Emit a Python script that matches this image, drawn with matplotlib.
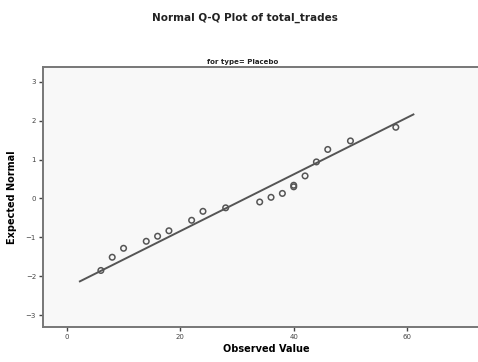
import matplotlib
matplotlib.use("Agg")
import matplotlib.pyplot as plt

# observed total_trades values and their expected normal scores
observed = [6, 8, 10, 14, 16, 18, 22, 24, 28, 34, 36, 38, 40, 40, 42, 44, 46, 50, 58]
expected = [-1.85, -1.51, -1.28, -1.10, -0.97, -0.83, -0.56, -0.33, -0.24, -0.09,
            0.03, 0.13, 0.30, 0.34, 0.58, 0.94, 1.26, 1.48, 1.83]

# reference line endpoints (mean 31.5, sd 13.7)
line_x = [2.3, 61.1]
line_y = [-2.13, 2.16]

x_ticks = [0, 20, 40, 60]
y_ticks = [-3, -2, -1, 0, 1, 2, 3]

fig = plt.figure(figsize=(4.78, 3.62), dpi=100)
fig.patch.set_facecolor("white")
# plot frame runs past the right edge of the canvas
ax = fig.add_axes([0.090, 0.097, 1.1, 0.718])
ax.set_facecolor("#f8f8f8")

ax.plot(line_x, line_y, color="#555555", lw=1.4, zorder=2)
ax.scatter(observed, expected, s=16, facecolors="none", edgecolors="#555555",
           linewidths=1.1, zorder=3)

ax.set_xlim(-4.2, 88.5)
ax.set_ylim(-3.3, 3.38)
ax.set_xticks(x_ticks)
ax.set_yticks(y_ticks)
ax.tick_params(labelsize=5, colors="#444444", length=3, width=1, pad=2)

for side in ["top", "bottom", "left"]:
    ax.spines[side].set_color("#777777")
    ax.spines[side].set_linewidth(1.4)
ax.spines["right"].set_visible(False)

ax.set_xlabel("Observed Value", fontsize=7, fontweight="bold")
ax.xaxis.set_label_coords(0.424, -0.065)
ax.set_ylabel("Expected Normal", fontsize=7, fontweight="bold", labelpad=6)

fig.text(0.513, 0.952, "Normal Q-Q Plot of total_trades", ha="center", va="center",
         fontsize=7.5, fontweight="bold", color="#222222")
fig.text(0.508, 0.829, "for type= Placebo", ha="center", va="center",
         fontsize=5, fontweight="bold", color="#222222")

fig.savefig("out.png", dpi=100)
